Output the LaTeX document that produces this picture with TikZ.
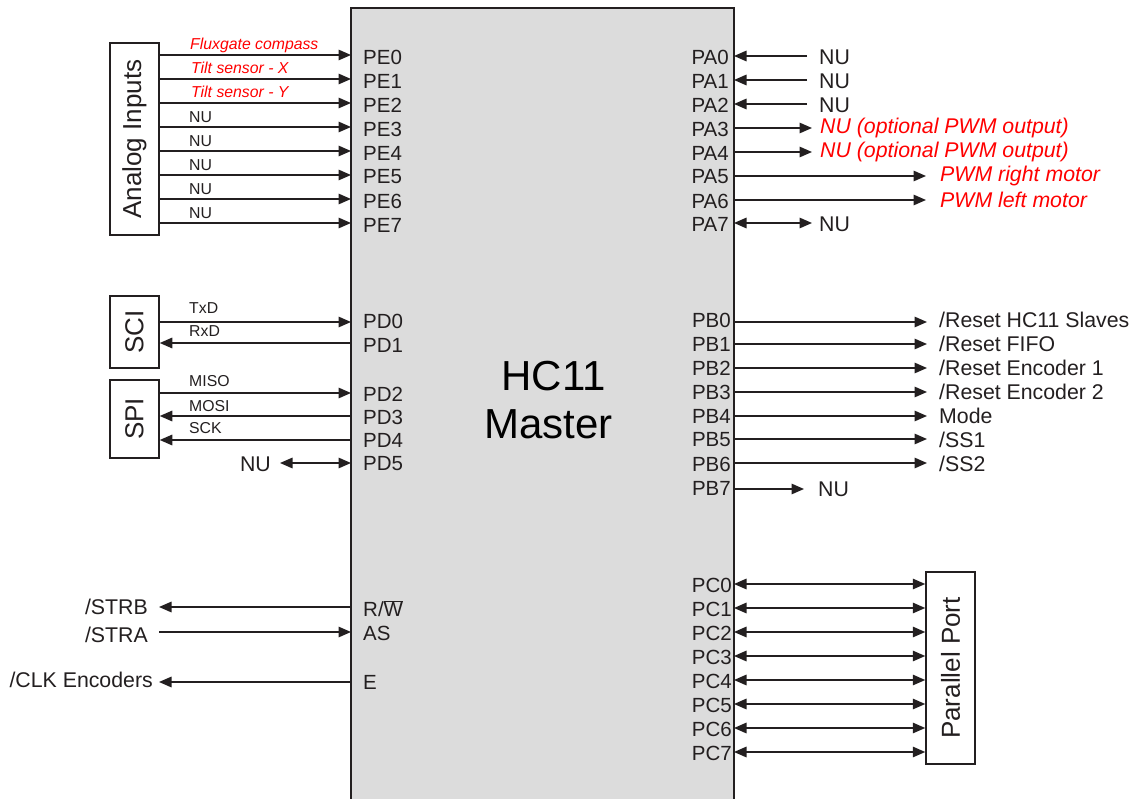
\documentclass[tikz,border=0pt]{standalone}
\usepackage{fontspec}
\setmainfont{Liberation Sans}
\usetikzlibrary{arrows.meta}
\definecolor{chipfill}{HTML}{DCDCDC}
\definecolor{ink}{HTML}{231F20}
\definecolor{sigred}{HTML}{FF0000}
\tikzset{
  wire/.style={draw=ink, line width=1.5pt},
  tipE/.style={-{Triangle[length=12.5pt,width=10.5pt]}},
  tipB/.style={{Triangle[length=12.5pt,width=10.5pt]}-{Triangle[length=12.5pt,width=10.5pt]}},
  chipbox/.style={draw=ink, line width=1.6pt, fill=chipfill, inner sep=0pt},
  blockbox/.style={draw=ink, line width=1.5pt, fill=white, inner sep=0pt},
  pinl/.style={font=\fontsize{20.5}{24}\selectfont, text=ink, inner sep=0pt, anchor=west},
  pinr/.style={font=\fontsize{20.5}{24}\selectfont, text=ink, inner sep=0pt, anchor=east},
  ext/.style={font=\fontsize{21.3}{25}\selectfont, text=ink, inner sep=0pt},
  sig/.style={font=\fontsize{15.8}{18}\selectfont, text=ink, inner sep=0pt, anchor=base west},
  redsig/.style={sig, text=sigred, font=\fontsize{15.8}{18}\selectfont\itshape},
  redext/.style={ext, text=sigred, font=\fontsize{21.3}{25}\selectfont\itshape},
  blocklabel/.style={font=\fontsize{26}{30}\selectfont, text=ink, inner sep=0pt, rotate=90},
  title/.style={font=\fontsize{42}{47}\selectfont, text=black, inner sep=0pt, anchor=base},
}
\begin{document}
\begin{tikzpicture}[x=1pt,y=-1pt]
\useasboundingbox[fill=white] (0,0) rectangle (1135,799);

% chip
\node[chipbox, minimum width=383pt, minimum height=795pt] (chip) at (542.5,405.5) {};
\node[title] (t1) at (553.5,391) {HC11};
\node[title] (t2) at (548.5,438) {Master};

% blocks
\node[blockbox, minimum width=49pt, minimum height=192pt] (ana) at (134.5,139) {};
\node[blocklabel] (anat) at (ana.center) {Analog Inputs};
\node[blockbox, minimum width=49pt, minimum height=72pt] (sci) at (134.5,332) {};
\node[blocklabel] (scit) at (sci.center) {SCI};
\node[blockbox, minimum width=49pt, minimum height=78pt] (spi) at (134.5,419) {};
\node[blocklabel] (spit) at (spi.center) {SPI};
\node[blockbox, minimum width=49pt, minimum height=192pt] (pp) at (950.5,668) {};
\node[blocklabel] (ppt) at (pp.center) {Parallel Port};

% port E
\foreach \i/\y in {0/55,1/79,2/103,3/127,4/151,5/175,6/199,7/223} {
  \coordinate (E\i) at (351,\y);
  \node[pinl] (pe\i) at (363,\y+2) {PE\i};
  \draw[wire,tipE] (ana.east |- E\i) -- (E\i);
}
\node[redsig] (sE0) at (190,50) {Fluxgate compass};
\node[redsig] (sE1) at (191,74) {Tilt sensor - X};
\node[redsig] (sE2) at (191,98) {Tilt sensor - Y};
\foreach \i/\y in {3/123,4/147,5/171,6/195,7/219} {
  \node[sig] (sE\i) at (189,\y) {NU};
}

% port D
\foreach \i/\y/\ly in {0/322/321,1/343/345,2/393/394,3/416/417,4/440/440,5/463/464} {
  \coordinate (D\i) at (351,\y);
  \node[pinl] (pd\i) at (363,\ly) {PD\i};
}
\draw[wire,tipE] (sci.east |- D0) -- (D0);
\draw[wire,tipE] (D1) -- (sci.east |- D1);
\draw[wire,tipE] (spi.east |- D2) -- (D2);
\draw[wire,tipE] (D3) -- (spi.east |- D3);
\draw[wire,tipE] (D4) -- (spi.east |- D4);
\node[sig] (sD0) at (189,314) {TxD};
\node[sig] (sD1) at (189,337) {RxD};
\node[sig] (sD2) at (189,387) {MISO};
\node[sig] (sD3) at (189,411) {MOSI};
\node[sig] (sD4) at (189,433) {SCK};
\node[ext, anchor=east] (nD5) at (271,464) {NU};
\coordinate (wD5) at ([xshift=9pt]nD5.east);
\draw[wire,tipB] (wD5 |- D5) -- (D5);

% control pins
\coordinate (RW) at (351,607);
\coordinate (AS) at (351,632);
\coordinate (EC) at (351,682);
\node[pinl] (prw) at (363,609) {R/$\overline{\mbox{W}}$};
\node[pinl] (pas) at (363,633) {AS};
\node[pinl] (pec) at (363,682) {E};
\node[ext, anchor=east] (strb) at (148,607) {/STRB};
\node[ext, anchor=east] (stra) at (148,635) {/STRA};
\node[ext, anchor=east] (clk) at (153,680) {/CLK Encoders};
\coordinate (wRW) at ([xshift=11pt]strb.east);
\coordinate (wAS) at ([xshift=11pt]stra.east);
\coordinate (wEC) at ([xshift=6pt]clk.east);
\draw[wire,tipE] (RW) -- (wRW |- RW);
\draw[wire,tipE] (wAS |- AS) -- (AS);
\draw[wire,tipE] (EC) -- (wEC |- EC);

% port A
\foreach \i/\y in {0/56,1/80,2/104,3/128,4/152,5/176,6/200,7/223} {
  \coordinate (A\i) at (734,\y);
  \node[pinr] (pa\i) at (729,\y+1) {PA\i};
}
\foreach \i/\y in {0/57,1/81,2/105} {
  \node[ext, anchor=west] (nA\i) at (819,\y) {NU};
  \coordinate (wA\i) at ([xshift=-12pt]nA\i.west);
  \draw[wire,tipE] (wA\i |- A\i) -- (A\i);
}
\foreach \i/\y in {3/128,4/152} {
  \node[redext, anchor=west] (nA\i) at (820,\y) {NU (optional PWM output)};
  \coordinate (wA\i) at ([xshift=-8pt]nA\i.west);
  \draw[wire,tipE] (A\i) -- (wA\i |- A\i);
}
\node[redext, anchor=west] (nA5) at (940,176) {PWM right motor};
\node[redext, anchor=west] (nA6) at (940,200) {PWM left motor};
\coordinate (wA5) at ([xshift=-14pt]nA5.west);
\coordinate (wA6) at ([xshift=-14pt]nA6.west);
\draw[wire,tipE] (A5) -- (wA5 |- A5);
\draw[wire,tipE] (A6) -- (wA6 |- A6);
\node[ext, anchor=west] (nA7) at (819,224) {NU};
\coordinate (wA7) at ([xshift=-7pt]nA7.west);
\draw[wire,tipB] (A7) -- (wA7 |- A7);

% port B
\foreach \i/\y/\ly in {0/322/320,1/344/344,2/368/368,3/392/392,4/416/416,5/439/440,6/463/464,7/489/488} {
  \coordinate (B\i) at (734,\y);
  \node[pinr] (pb\i) at (731,\ly) {PB\i};
}
\node[ext, anchor=west] (nB0) at (939,320) {/Reset HC11 Slaves};
\node[ext, anchor=west] (nB1) at (939,344) {/Reset FIFO};
\node[ext, anchor=west] (nB2) at (939,368) {/Reset Encoder 1};
\node[ext, anchor=west] (nB3) at (939,392) {/Reset Encoder 2};
\node[ext, anchor=west] (nB4) at (939,416) {Mode};
\node[ext, anchor=west] (nB5) at (939,440) {/SS1};
\node[ext, anchor=west] (nB6) at (939,464) {/SS2};
\node[ext, anchor=west] (nB7) at (818,489) {NU};
\foreach \i in {0,...,6} {
  \coordinate (wB\i) at ([xshift=-12pt]nB\i.west);
  \draw[wire,tipE] (B\i) -- (wB\i |- B\i);
}
\coordinate (wB7) at ([xshift=-14pt]nB7.west);
\draw[wire,tipE] (B7) -- (wB7 |- B7);

% port C
\foreach \i/\y in {0/584,1/608,2/632,3/656,4/680,5/704,6/728,7/752} {
  \coordinate (C\i) at (734,\y);
  \node[pinr] (pc\i) at (732,\y+1) {PC\i};
  \draw[wire,tipB] (C\i) -- (pp.west |- C\i);
}
\end{tikzpicture}
\end{document}
